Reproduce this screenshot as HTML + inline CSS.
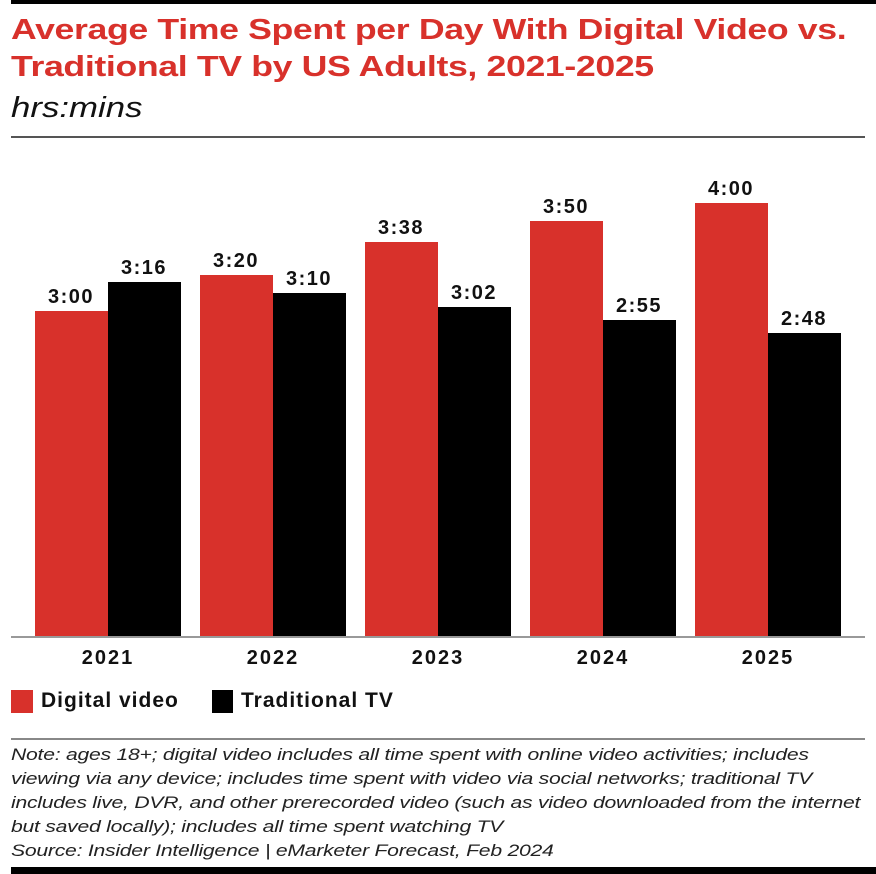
<!DOCTYPE html>
<html><head><meta charset="utf-8"><style>
body{margin:0;width:876px;height:874px;background:#fff;position:relative;overflow:hidden;font-family:"Liberation Sans",sans-serif;}
.a{position:absolute}
.t{color:#d8312b;font-weight:bold;font-size:29px;left:11px;line-height:37px;letter-spacing:-0.3px;transform:scaleX(1.23);transform-origin:0 0;white-space:nowrap}
.v{font-weight:bold;font-size:20px;text-align:center;width:90px;color:#111;letter-spacing:1.5px}
.y{font-weight:bold;font-size:20px;text-align:center;width:120px;top:647px;color:#111;letter-spacing:2px}
.n{font-style:italic;font-size:17px;color:#222;left:11px;top:743px;line-height:24px;letter-spacing:-0.2px;transform:scaleX(1.245);transform-origin:0 0;white-space:nowrap}
</style></head><body>
<div class="a" style="left:11px;top:0;width:865px;height:4px;background:#000"></div>
<div class="a t" style="top:12px">Average Time Spent per Day With Digital Video vs.<br>Traditional TV by US Adults, 2021-2025</div>
<div class="a" style="left:11px;top:92px;font-style:italic;font-size:29px;color:#111;transform:scaleX(1.2);transform-origin:0 0">hrs:mins</div>
<div class="a" style="left:11px;top:136px;width:854px;height:2px;background:#555"></div>
<div class="a" style="left:11px;top:636px;width:854px;height:2px;background:#999"></div>

<div class="a" style="left:35px;top:311px;width:73px;height:325px;background:#d8312b"></div>
<div class="a" style="left:108px;top:282px;width:73px;height:354px;background:#000"></div>
<div class="a" style="left:200px;top:275px;width:73px;height:361px;background:#d8312b"></div>
<div class="a" style="left:273px;top:293px;width:73px;height:343px;background:#000"></div>
<div class="a" style="left:365px;top:242px;width:73px;height:394px;background:#d8312b"></div>
<div class="a" style="left:438px;top:307px;width:73px;height:329px;background:#000"></div>
<div class="a" style="left:530px;top:221px;width:73px;height:415px;background:#d8312b"></div>
<div class="a" style="left:603px;top:320px;width:73px;height:316px;background:#000"></div>
<div class="a" style="left:695px;top:203px;width:73px;height:433px;background:#d8312b"></div>
<div class="a" style="left:768px;top:333px;width:73px;height:303px;background:#000"></div>

<div class="a v" style="left:26px;top:286px">3:00</div>
<div class="a v" style="left:99px;top:257px">3:16</div>
<div class="a v" style="left:191px;top:250px">3:20</div>
<div class="a v" style="left:264px;top:268px">3:10</div>
<div class="a v" style="left:356px;top:217px">3:38</div>
<div class="a v" style="left:429px;top:282px">3:02</div>
<div class="a v" style="left:521px;top:196px">3:50</div>
<div class="a v" style="left:594px;top:295px">2:55</div>
<div class="a v" style="left:686px;top:178px">4:00</div>
<div class="a v" style="left:759px;top:308px">2:48</div>

<div class="a y" style="left:48px">2021</div>
<div class="a y" style="left:213px">2022</div>
<div class="a y" style="left:378px">2023</div>
<div class="a y" style="left:543px">2024</div>
<div class="a y" style="left:708px">2025</div>

<div class="a" style="left:11px;top:690px;width:22px;height:23px;background:#d8312b"></div>
<div class="a" style="left:41px;top:689px;font-size:21px;font-weight:bold;color:#111;letter-spacing:1px">Digital video</div>
<div class="a" style="left:212px;top:690px;width:21px;height:23px;background:#000"></div>
<div class="a" style="left:241px;top:689px;font-size:21px;font-weight:bold;color:#111;letter-spacing:1px">Traditional TV</div>

<div class="a" style="left:11px;top:738px;width:854px;height:2px;background:#888"></div>
<div class="a n">Note: ages 18+; digital video includes all time spent with online video activities; includes<br>viewing via any device; includes time spent with video via social networks; traditional TV<br>includes live, DVR, and other prerecorded video (such as video downloaded from the internet<br>but saved locally); includes all time spent watching TV<br>Source: Insider Intelligence | eMarketer Forecast, Feb 2024</div>
<div class="a" style="left:11px;top:867px;width:865px;height:7px;background:#000"></div>
</body></html>
